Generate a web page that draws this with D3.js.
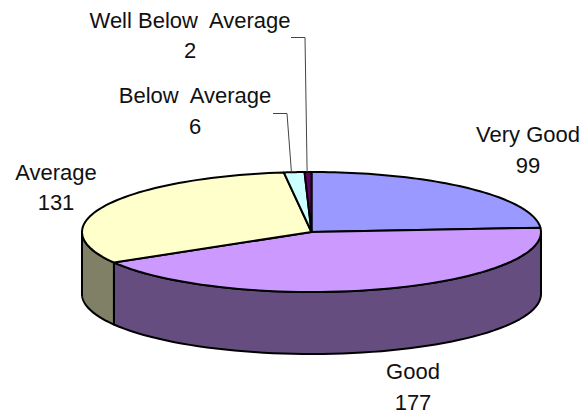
<!DOCTYPE html>
<html><head><meta charset="utf-8">
<script src="https://cdn.jsdelivr.net/npm/d3@7/dist/d3.min.js"></script>
<style>html,body{margin:0;padding:0;background:#fff}svg{display:block}text{font-family:"Liberation Sans",Arial,sans-serif;font-size:22px;fill:#111}</style>
</head><body><div id="c"></div>
<script>
const categories = ["Very Good","Good","Average","Below  Average","Well Below  Average"];
const values = [99,177,131,6,2];
const topColors = ["#9999FF","#CC99FF","#FFFFCC","#CCFFFF","#660066"];
const sideColors = ["#4D4D80","#664D80","#808066","#668080","#330033"];

const W=584,H=417;
const cx=311.5,cy=232,rx=229.5,ry=60,depth=62;
const labelPos=[[528,142,173],[413,379,410],[56,180,210],[195,103,134],[190,28,58]];
const leaderElbow={3:[[273,113.5],[287,113.5]],4:[[291,37.5],[305,37.5]]};
const leaderFrac=0.37;

const svg=d3.select("#c").append("svg").attr("width",W).attr("height",H);
const xS=d3.scaleLinear().domain([-1,1]).range([cx-rx,cx+rx]);
const yS=d3.scaleLinear().domain([-1,1]).range([cy-ry,cy+ry]);
const arcs=d3.pie().sort(null).value(d=>d)(values);
const pt=(a,dz=0)=>[xS(Math.sin(a)),yS(-Math.cos(a))+dz];
const samples=(a0,a1,dz=0)=>d3.range(0,61).map(i=>pt(a0+(a1-a0)*i/60,dz));
const line=d3.line();

const H_R=Math.PI/2, H_L=3*Math.PI/2;
const sides=svg.append("g");
arcs.forEach((d,i)=>{
  const a0=Math.max(d.startAngle,H_R),a1=Math.min(d.endAngle,H_L);
  if(a1<=a0) return;
  const p=samples(a0,a1).concat(samples(a0,a1,depth).reverse());
  sides.append("path").attr("d",line(p)+"Z").attr("fill",sideColors[i])
    .attr("stroke","#000").attr("stroke-width",2).attr("stroke-linejoin","round");
});
const tops=svg.append("g");
arcs.forEach((d,i)=>{
  const p=[[cx,cy]].concat(samples(d.startAngle,d.endAngle));
  tops.append("path").attr("d",line(p)+"Z").attr("fill",topColors[i])
    .attr("stroke","#000").attr("stroke-width",2).attr("stroke-linejoin","round");
});
Object.keys(leaderElbow).forEach(k=>{
  const d=arcs[+k];
  const end=pt(d.startAngle+(d.endAngle-d.startAngle)*leaderFrac);
  svg.append("path").attr("d",line(leaderElbow[k].concat([end]))).attr("fill","none")
    .attr("stroke","#444").attr("stroke-width",1);
});
const lab=svg.append("g").attr("text-anchor","middle");
categories.forEach((c,i)=>{
  const [x,y1,y2]=labelPos[i];
  lab.append("text").attr("x",x).attr("y",y1).style("white-space","pre").text(c);
  lab.append("text").attr("x",x).attr("y",y2).text(values[i]);
});
</script></body></html>
